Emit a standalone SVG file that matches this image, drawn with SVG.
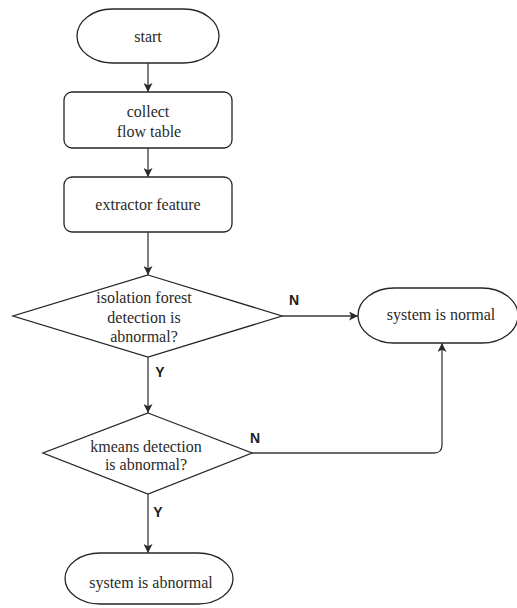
<svg xmlns="http://www.w3.org/2000/svg" width="517" height="608" viewBox="0 0 517 608">
  <defs>
    <style>
      .shape { fill: #ffffff; stroke: #262626; stroke-width: 1.3; }
      .txt { font-family: "Liberation Serif", "Times New Roman", serif; font-size: 16px; fill: #2a2a2a; text-anchor: middle; }
      .lbl { font-family: "Liberation Sans", Arial, sans-serif; font-size: 14px; font-weight: bold; fill: #222; text-anchor: middle; }
      .edge { fill: none; stroke: #3a3a3a; stroke-width: 1.3; marker-end: url(#arrow); }
    </style>
    <marker id="arrow" viewBox="0 0 10 10" refX="10" refY="5" markerWidth="9" markerHeight="9" markerUnits="userSpaceOnUse" orient="auto">
      <path d="M0,0 L10,5 L0,10 L2.5,5 z" fill="#2a2a2a"/>
    </marker>
  </defs>
  <rect width="517" height="608" fill="#ffffff"/>

  <g id="start">
    <path class="shape" d="M112,9 H184 A35,27 0 0 1 184,63 H112 A35,27 0 0 1 112,9 Z"/>
    <text class="txt" x="148" y="42">start</text>
  </g>

  <g id="collect">
    <rect class="shape" x="64" y="92" width="168" height="56" rx="8"/>
    <text class="txt" x="148" y="117">collect</text>
    <text class="txt" x="149" y="137">flow table</text>
  </g>

  <g id="extract">
    <rect class="shape" x="64" y="177" width="168" height="55" rx="8"/>
    <text class="txt" x="148" y="210">extractor feature</text>
  </g>

  <g id="iforest">
    <path class="shape" d="M148,275 L282,316 L148,357 L13,316 Z"/>
    <text class="txt" x="144" y="303">isolation forest</text>
    <text class="txt" x="144" y="323">detection is</text>
    <text class="txt" x="144" y="342">abnormal?</text>
  </g>

  <g id="kmeans">
    <path class="shape" d="M148,413 L252,453 L148,494 L43,453 Z"/>
    <text class="txt" x="146" y="452">kmeans detection</text>
    <text class="txt" x="146" y="470">is abnormal?</text>
  </g>

  <g id="normal">
    <path class="shape" d="M394,288 H482 A36,27.5 0 0 1 482,343 H394 A36,27.5 0 0 1 394,288 Z"/>
    <text class="txt" x="441" y="320">system is normal</text>
  </g>

  <g id="abnormal">
    <path class="shape" d="M100,553 H198 A35,25.5 0 0 1 198,604 H100 A35,25.5 0 0 1 100,553 Z"/>
    <text class="txt" x="151" y="588">system is abnormal</text>
  </g>

  <g id="connectors">
    <path class="edge" d="M148,63 V92"/>
    <path class="edge" d="M148,148 V177"/>
    <path class="edge" d="M148,232 V275"/>
    <path class="edge" d="M282,316 H358"/>
    <path class="edge" d="M148,357 V413"/>
    <path class="edge" d="M252,453 H434 Q442,453 442,445 V343"/>
    <path class="edge" d="M148,494 V553"/>
    <text class="lbl" x="294" y="305">N</text>
    <text class="lbl" x="160" y="377">Y</text>
    <text class="lbl" x="255" y="443">N</text>
    <text class="lbl" x="158" y="517">Y</text>
  </g>
</svg>
